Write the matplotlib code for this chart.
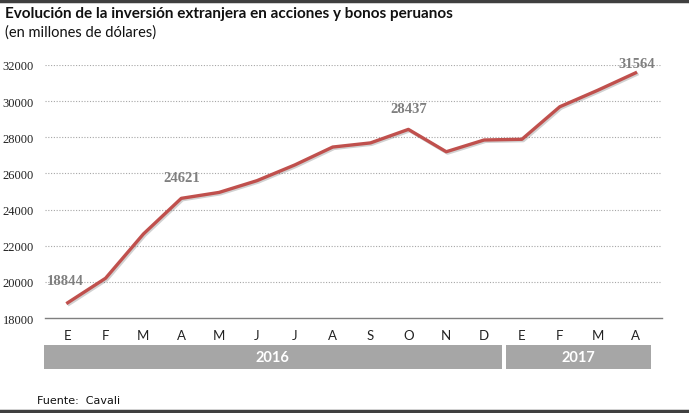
import matplotlib
matplotlib.use("Agg")
import matplotlib.pyplot as plt
import matplotlib.patheffects as pe
from matplotlib.patches import Rectangle
from matplotlib.transforms import blended_transform_factory

months = ["E", "F", "M", "A", "M", "J", "J", "A", "S", "O", "N", "D", "E", "F", "M", "A"]
values = [18844, 20200, 22650, 24621, 24950, 25600, 26470, 27460, 27690, 28437,
          27200, 27850, 27890, 29690, 30600, 31564]
label_idx = [0, 3, 9, 15]
label_offsets = [(-2, 11), (0, 10), (0, 10), (1, 2)]
years = ["2016", "2017"]
year_spans = [(-0.63, 11.46), (11.57, 15.42)]
yticks = [18000, 20000, 22000, 24000, 26000, 28000, 30000, 32000]

W, H = 689, 414
fig = plt.figure(figsize=(W / 100, H / 100), dpi=100)
ax = fig.add_axes([45 / W, (H - 319) / H, (662 - 45) / W, 253 / H])

x = list(range(len(values)))
ax.plot(x, values, color="#C0504D", lw=2.4, solid_joinstyle="round",
        path_effects=[pe.SimpleLineShadow(offset=(1.0, -1.0), alpha=0.18, shadow_color="black"), pe.Normal()],
        zorder=3)

for i, off in zip(label_idx, label_offsets):
    ax.annotate(f"{values[i]}", (x[i], values[i]), xytext=off, textcoords="offset points",
                ha="center", va="bottom", fontsize=10.5, fontweight="bold", color="#7F7F7F",
                family="Liberation Serif")

ax.set_xlim(-0.6, 15.7)
ax.set_ylim(18000, 32000)
ax.set_yticks(yticks)
ax.set_yticklabels([str(v) for v in yticks], family="Liberation Serif", fontsize=9, color="#222222")
for v in yticks[1:]:
    ax.axhline(v, color="#A6A6A6", lw=0.8, ls=(0, (1, 1.5)), zorder=1)
ax.set_xticks(x)
ax.set_xticklabels(months, family="Lato", fontsize=9.5, color="#222222")
ax.tick_params(axis="both", length=0)
ax.tick_params(axis="x", pad=8)
ax.tick_params(axis="y", pad=8)
for s in ["top", "right", "left"]:
    ax.spines[s].set_visible(False)
ax.spines["bottom"].set_color("#7F7F7F")
ax.spines["bottom"].set_linewidth(1.0)

tr = blended_transform_factory(ax.transData, ax.transAxes)
y0, y1 = -51 / 253, -27 / 253
for yr, (a, b) in zip(years, year_spans):
    ax.add_patch(Rectangle((a, y0), b - a, y1 - y0, transform=tr, clip_on=False,
                           facecolor="#A6A6A6", edgecolor="none"))
    ax.text((a + b) / 2, (y0 + y1) / 2, yr, transform=tr, ha="center", va="center",
            color="white", fontweight="bold", fontsize=10.5, family="Lato")

fig.text(5 / W, 1 - 14 / H, "Evolución de la inversión extranjera en acciones y bonos peruanos",
         fontsize=11, fontweight="bold", family="Lato", va="center", ha="left", color="#111111")
fig.text(5 / W, 1 - 33 / H, "(en millones de dólares)", fontsize=10.5, family="Lato",
         va="center", ha="left", color="#111111")
fig.text(37 / W, 1 - 401 / H, "Fuente:  Cavali", fontsize=8, family="Liberation Sans Narrow",
         va="center", ha="left", color="#111111")

fig.add_artist(plt.Line2D([0, 1], [1 - 1.5 / H, 1 - 1.5 / H], transform=fig.transFigure,
                          color="#3F3F3F", lw=2.5))
fig.add_artist(plt.Line2D([0, 1], [2 / H, 2 / H], transform=fig.transFigure,
                          color="#3F3F3F", lw=2.5))

fig.savefig("out.png", dpi=100)
